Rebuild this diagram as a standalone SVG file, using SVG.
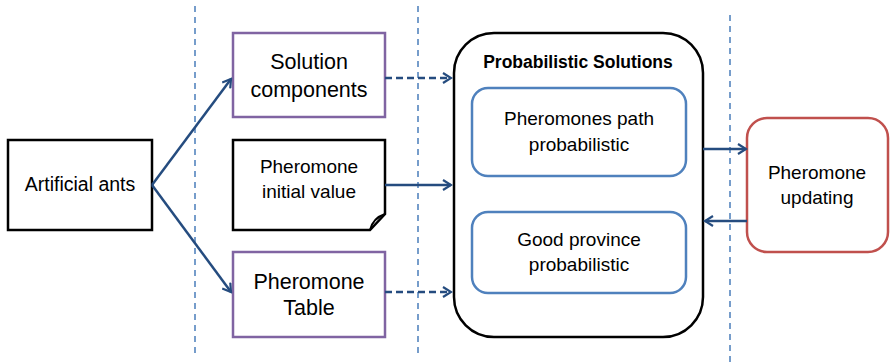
<svg xmlns="http://www.w3.org/2000/svg" width="890" height="363" viewBox="0 0 890 363">
<style>
.t{font-family:"Liberation Sans",Arial,sans-serif;fill:#000;text-anchor:middle}
.sep{stroke:#4A7EBB;stroke-width:1.5;stroke-dasharray:6 5;fill:none}
.c{stroke:#254C7F;stroke-width:2.5;fill:none}
.d{stroke-dasharray:7 4}
</style>
<defs>
<marker id="a" viewBox="0 0 12 12" refX="10" refY="6" markerWidth="12" markerHeight="12" markerUnits="userSpaceOnUse" orient="auto">
<polyline points="2,1 10,6 2,11" fill="none" stroke="#254C7F" stroke-width="2.2"/>
</marker>
</defs>
<rect width="890" height="363" fill="#fff"/>
<g id="separators">
<line class="sep" x1="195" y1="6" x2="195" y2="356"/>
<line class="sep" x1="418" y1="6" x2="418" y2="356"/>
<line class="sep" x1="730" y1="15" x2="730" y2="363"/>
</g>
<g id="ants">
<rect x="8" y="140" width="144" height="90" fill="#fff" stroke="#000" stroke-width="2.5"/>
<text class="t" x="80" y="191" font-size="19.5">Artificial ants</text>
</g>
<g id="solution-components">
<rect x="233" y="33" width="152" height="84" fill="#fff" stroke="#8064A2" stroke-width="2.5"/>
<text class="t" x="309" y="69" font-size="21.5">Solution</text>
<text class="t" x="309" y="97" font-size="21.5">components</text>
</g>
<g id="pheromone-initial">
<path d="M233,140 H385 V214 L370,230 H233 Z" fill="#fff" stroke="#000" stroke-width="2.5"/>
<path d="M370,230 Q373,218 385,214" fill="none" stroke="#000" stroke-width="2"/>
<text class="t" x="309" y="173" font-size="19">Pheromone</text>
<text class="t" x="309" y="198" font-size="19">initial value</text>
</g>
<g id="pheromone-table">
<rect x="233" y="252" width="152" height="85" fill="#fff" stroke="#8064A2" stroke-width="2.5"/>
<text class="t" x="309" y="289" font-size="21.5">Pheromone</text>
<text class="t" x="309" y="315" font-size="21.5">Table</text>
</g>
<g id="probabilistic-solutions">
<rect x="454" y="33" width="249" height="304" rx="40" ry="40" fill="#fff" stroke="#000" stroke-width="2.5"/>
<text class="t" x="578" y="68" font-size="17.5" font-weight="bold">Probabilistic Solutions</text>
</g>
<g id="pheromones-path">
<rect x="472" y="88" width="214" height="88" rx="16" ry="16" fill="#fff" stroke="#4F81BD" stroke-width="2.5"/>
<text class="t" x="579" y="125" font-size="19">Pheromones path</text>
<text class="t" x="579" y="151" font-size="19">probabilistic</text>
</g>
<g id="good-province">
<rect x="472" y="212" width="214" height="81" rx="16" ry="16" fill="#fff" stroke="#4F81BD" stroke-width="2.5"/>
<text class="t" x="579" y="246" font-size="19">Good province</text>
<text class="t" x="579" y="271" font-size="19">probabilistic</text>
</g>
<g id="pheromone-updating">
<rect x="747" y="118" width="141" height="134" rx="20" ry="20" fill="#fff" stroke="#C0504D" stroke-width="2.5"/>
<text class="t" x="817" y="179" font-size="19">Pheromone</text>
<text class="t" x="817" y="204" font-size="19">updating</text>
</g>
<g id="connectors">
<line class="c" x1="152" y1="185" x2="231" y2="79" marker-end="url(#a)"/>
<line class="c" x1="152" y1="185" x2="231" y2="292" marker-end="url(#a)"/>
<line class="c d" x1="385" y1="78" x2="451" y2="78" marker-end="url(#a)"/>
<line class="c" x1="385" y1="185" x2="451" y2="185" marker-end="url(#a)"/>
<line class="c d" x1="385" y1="292" x2="451" y2="292" marker-end="url(#a)"/>
<line class="c" x1="703" y1="149" x2="746" y2="149" marker-end="url(#a)"/>
<line class="c" x1="747" y1="221" x2="705" y2="221" marker-end="url(#a)"/>
</g>
</svg>
